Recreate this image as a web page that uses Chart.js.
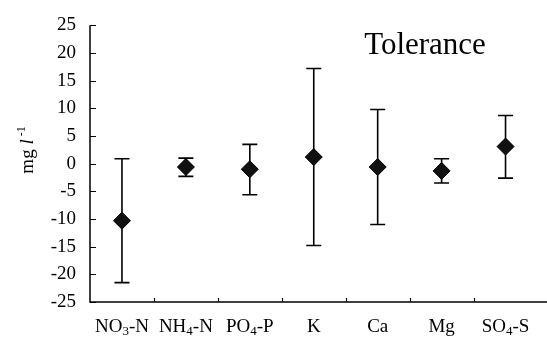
<!DOCTYPE html>
<html>
<head>
<meta charset="utf-8">
<script src="https://cdn.jsdelivr.net/npm/chart.js@4/dist/chart.umd.min.js"></script>
<style>
html, body { margin: 0; padding: 0; background: #fff; }
#wrap { width: 547px; height: 347px; }
</style>
</head>
<body>
<div id="wrap"><canvas id="c"></canvas></div>
<script>
// Nutrient tolerance: mean deviation with lower/upper limits (mg l-1)
const categories = ['NO₃-N', 'NH₄-N', 'PO₄-P', 'K', 'Ca', 'Mg', 'SO₄-S'];
const meanValues = [-10.3, -0.6, -1.0, 1.2, -0.6, -1.3, 3.1];
const upperValues = [0.9, 1.0, 3.5, 17.2, 9.8, 0.9, 8.7];
const lowerValues = [-21.5, -2.3, -5.6, -14.8, -11.0, -3.5, -2.6];
const yMin = -25, yMax = 25, yStep = 5;
const chartTitle = 'Tolerance';

const SERIF = '"Liberation Serif", "Times New Roman", serif';
const INK = '#000';
const SUBS = { '₀':'0','₁':'1','₂':'2','₃':'3','₄':'4','₅':'5','₆':'6','₇':'7','₈':'8','₉':'9' };

// Vertical whiskers with caps, drawn beneath the markers
const errorBars = {
  id: 'errorBars',
  beforeDatasetsDraw(chart) {
    const { ctx, scales: { x, y } } = chart;
    ctx.save();
    ctx.strokeStyle = INK;
    ctx.lineWidth = 1.6;
    const cap = 7.5;
    categories.forEach((_, i) => {
      const px = x.getPixelForValue(i);
      const top = y.getPixelForValue(upperValues[i]);
      const bot = y.getPixelForValue(lowerValues[i]);
      ctx.beginPath();
      ctx.moveTo(px, top); ctx.lineTo(px, bot);
      ctx.moveTo(px - cap, top); ctx.lineTo(px + cap, top);
      ctx.moveTo(px - cap, bot); ctx.lineTo(px + cap, bot);
      ctx.stroke();
    });
    ctx.restore();
  }
};

// Draw a label where subscript digits are set smaller and lowered
function drawRichLabel(ctx, text, cx, cy, size) {
  const parts = [];
  for (const ch of text) {
    const sub = SUBS[ch] !== undefined;
    parts.push({ t: sub ? SUBS[ch] : ch, sub });
  }
  const subSize = Math.round(size * 0.68);
  let total = 0;
  parts.forEach(p => {
    ctx.font = (p.sub ? subSize : size) + 'px ' + SERIF;
    p.w = ctx.measureText(p.t).width;
    total += p.w;
  });
  let px = cx - total / 2;
  const base = cy + size * 0.34;
  ctx.textAlign = 'left';
  ctx.textBaseline = 'alphabetic';
  parts.forEach(p => {
    ctx.font = (p.sub ? subSize : size) + 'px ' + SERIF;
    ctx.fillText(p.t, px, p.sub ? base + size * 0.14 : base);
    px += p.w;
  });
}

// Axis lines, inward ticks, category labels, axis title and chart title
const frame = {
  id: 'frame',
  afterDraw(chart) {
    const { ctx, chartArea: a, scales: { x, y } } = chart;
    ctx.save();
    ctx.strokeStyle = INK;
    ctx.fillStyle = INK;
    ctx.lineWidth = 1.5;
    // axis lines
    ctx.beginPath();
    ctx.moveTo(a.left, y.getPixelForValue(yMax));
    ctx.lineTo(a.left, a.bottom);
    ctx.lineTo(chart.width, a.bottom);
    ctx.stroke();
    // y ticks pointing into the plot
    ctx.lineWidth = 1.2;
    ctx.beginPath();
    for (let v = yMin; v <= yMax; v += yStep) {
      const py = Math.round(y.getPixelForValue(v)) + 0.5;
      ctx.moveTo(a.left, py); ctx.lineTo(a.left + 6, py);
    }
    // x ticks at category boundaries
    for (let i = 1; i < categories.length; i++) {
      const px = Math.round((x.getPixelForValue(i - 1) + x.getPixelForValue(i)) / 2) + 0.5;
      ctx.moveTo(px, a.bottom); ctx.lineTo(px, a.bottom - 4);
    }
    ctx.stroke();
    // category labels
    categories.forEach((c, i) => {
      drawRichLabel(ctx, c, x.getPixelForValue(i), a.bottom + 24, 19);
    });
    // y axis title: mg l^-1, rotated
    ctx.translate(33, 150);
    ctx.rotate(-Math.PI / 2);
    const segs = [
      { t: 'mg ', f: '19px ' + SERIF, dy: 0 },
      { t: 'l', f: 'italic 19px ' + SERIF, dy: 0 },
      { t: ' -1', f: '12px ' + SERIF, dy: -8 }
    ];
    let w = 0;
    segs.forEach(s => { ctx.font = s.f; s.w = ctx.measureText(s.t).width; w += s.w; });
    let sx = -w / 2;
    ctx.textAlign = 'left';
    ctx.textBaseline = 'alphabetic';
    segs.forEach(s => { ctx.font = s.f; ctx.fillText(s.t, sx, s.dy); sx += s.w; });
    ctx.restore();
    // chart title inside the plot
    ctx.save();
    ctx.fillStyle = INK;
    ctx.font = '31px ' + SERIF;
    ctx.textAlign = 'center';
    ctx.textBaseline = 'alphabetic';
    ctx.fillText(chartTitle, 425, 54);
    ctx.restore();
  }
};

new Chart(document.getElementById('c'), {
  type: 'line',
  data: {
    labels: categories,
    datasets: [{
      data: meanValues,
      showLine: false,
      pointStyle: 'rectRot',
      pointRadius: 8.5,
      pointHoverRadius: 8.5,
      pointBackgroundColor: '#111',
      pointBorderColor: '#000',
      pointBorderWidth: 1
    }]
  },
  options: {
    responsive: true,
    maintainAspectRatio: false,
    animation: false,
    events: [],
    layout: { padding: { top: 10, right: 0, left: 0, bottom: 0 } },
    plugins: { legend: { display: false }, tooltip: { enabled: false }, title: { display: false } },
    scales: {
      x: {
        type: 'category',
        offset: true,
        grid: { display: false },
        border: { display: false },
        ticks: { display: false },
        afterFit(s) { s.height = 45; }
      },
      y: {
        min: yMin,
        max: yMax,
        grid: { display: false, drawTicks: false },
        border: { display: false },
        ticks: {
          stepSize: yStep,
          color: INK,
          padding: 14,
          font: { family: SERIF, size: 19 }
        },
        afterFit(s) { s.width = 90; }
      }
    }
  },
  plugins: [errorBars, frame]
});
</script>
</body>
</html>
